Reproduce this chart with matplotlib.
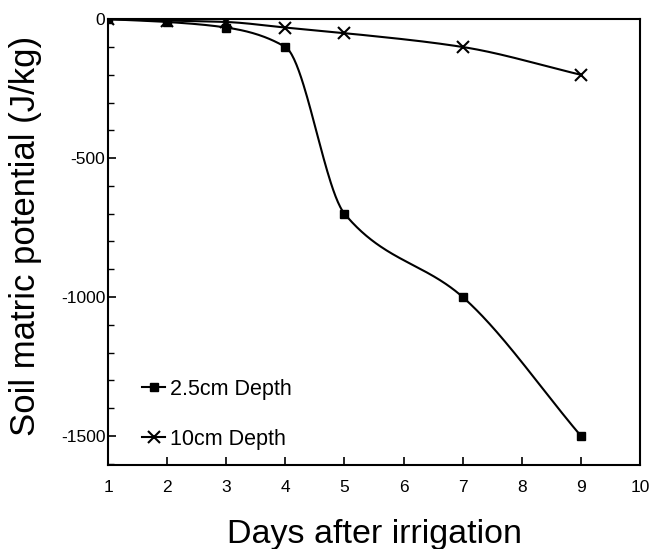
import numpy as np
import matplotlib
matplotlib.use("Agg")
import matplotlib.pyplot as plt
from matplotlib.lines import Line2D

days = [1, 2, 3, 4, 5, 7, 9]
depth_25 = [0, -10, -30, -100, -700, -1000, -1500]
depth_10 = [0, -5, -10, -30, -50, -100, -200]


def pchip(x, y, n=400):
    # monotone cubic (PCHIP) just to draw the smooth connecting curve
    x = np.asarray(x, float)
    y = np.asarray(y, float)
    h = np.diff(x)
    d = np.diff(y) / h
    k = len(x)
    m = np.zeros(k)
    for i in range(1, k - 1):
        if d[i - 1] * d[i] > 0:
            w1 = 2 * h[i] + h[i - 1]
            w2 = h[i] + 2 * h[i - 1]
            m[i] = (w1 + w2) / (w1 / d[i - 1] + w2 / d[i])
    m[0] = d[0]
    m[-1] = d[-1]
    xs = np.linspace(x[0], x[-1], n)
    ys = np.empty_like(xs)
    for j, xv in enumerate(xs):
        i = min(np.searchsorted(x, xv, side="right") - 1, k - 2)
        t = (xv - x[i]) / h[i]
        h00 = 2 * t**3 - 3 * t**2 + 1
        h10 = t**3 - 2 * t**2 + t
        h01 = -2 * t**3 + 3 * t**2
        h11 = t**3 - t**2
        ys[j] = h00 * y[i] + h10 * h[i] * m[i] + h01 * y[i + 1] + h11 * h[i] * m[i + 1]
    return xs, ys


plt.rcParams['font.family'] = ['Liberation Sans', 'DejaVu Sans']
plt.rcParams['axes.unicode_minus'] = False

fig = plt.figure(figsize=(6.55, 5.49), dpi=100)
ax = fig.add_axes([0.165, 0.153, 0.812, 0.812])

xs, ys = pchip(days, depth_25)
ax.plot(xs, ys, color='black', lw=1.5)
ax.plot(days, depth_25, 's', color='black', ms=6, ls='none')

xs, ys = pchip(days, depth_10)
ax.plot(xs, ys, color='black', lw=1.5)
ax.plot(days, depth_10, 'x', color='black', ms=8, mew=1.5, ls='none')

ax.set_xlim(1, 10)
ax.set_ylim(-1605, 0)
ax.set_xticks(range(1, 11))
ax.set_yticks([0, -500, -1000, -1500])
ax.set_yticks(np.arange(-1600, 0, 100), minor=True)
ax.tick_params(direction='in', labelsize=12.5, width=1.2, length=6)
ax.tick_params(axis='x', pad=11)
ax.tick_params(axis='y', pad=2)
ax.tick_params(which='minor', direction='in', length=4, width=1)
for s in ax.spines.values():
    s.set_linewidth(1.5)

ax.set_xlabel('Days after irrigation', fontsize=24.5, va='top')
ax.xaxis.set_label_coords(0.5, -0.122)
ax.set_ylabel('Soil matric potential (J/kg)', fontsize=25)
ax.yaxis.set_label_coords(-0.124, 0.513)

handles = [
    Line2D([], [], color='black', lw=1.5, marker='s', ms=6),
    Line2D([], [], color='black', lw=1.5, marker='x', ms=8, mew=1.5),
]
ax.legend(handles, ['2.5cm Depth', '10cm Depth'], loc='lower left',
          frameon=False, fontsize=15.5, handlelength=1.1, handletextpad=0.2,
          labelspacing=1.35, bbox_to_anchor=(0.035, 0.0), numpoints=1,
          borderaxespad=0.3)

fig.savefig('out.png', dpi=100)
